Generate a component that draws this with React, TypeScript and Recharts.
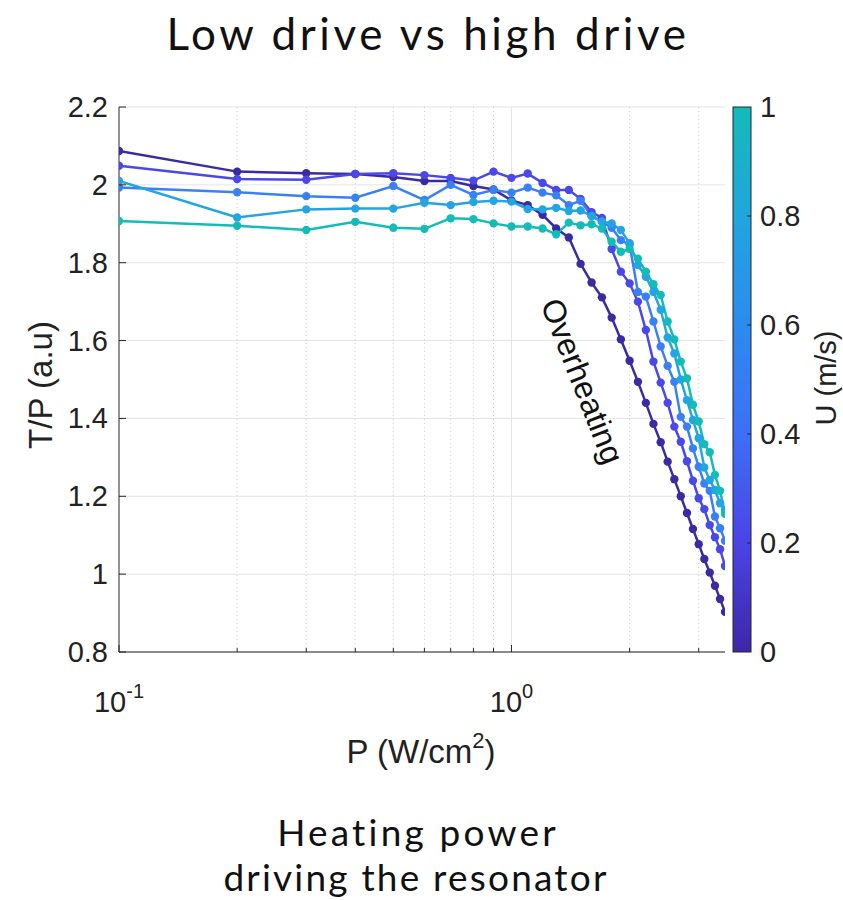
import React from 'react';
import { LineChart, Line, XAxis, YAxis, CartesianGrid, ReferenceLine } from 'recharts';

// heating power P (W/cm^2)
const power = [
  0.1, 0.2, 0.3, 0.4, 0.5, 0.6, 0.7, 0.8, 0.9, 1.0,
  1.1, 1.2, 1.3, 1.4, 1.5, 1.6, 1.7, 1.8, 1.9, 2.0,
  2.1, 2.2, 2.3, 2.4, 2.5, 2.6, 2.7, 2.8, 2.9, 3.0,
  3.1, 3.2, 3.3, 3.4, 3.5,
];

// T/P (a.u) for each flow speed U
const tpU0 = [
  2.087, 2.034, 2.03, 2.028, 2.02, 2.01, 2.01, 1.997, 1.988, 1.96,
  1.948, 1.923, 1.888, 1.865, 1.797, 1.749, 1.711, 1.659, 1.603, 1.548,
  1.494, 1.44, 1.386, 1.339, 1.289, 1.244, 1.2, 1.157, 1.116, 1.077,
  1.039, 1.004, 0.97, 0.936, 0.903,
];
const tpU25 = [
  2.049, 2.015, 2.013, 2.028, 2.03, 2.025, 2.018, 2.011, 2.034, 2.018,
  2.029, 2.005, 1.987, 1.987, 1.964, 1.93, 1.915, 1.835, 1.777, 1.747,
  1.7, 1.627, 1.546, 1.492, 1.44, 1.379, 1.34, 1.29, 1.24, 1.195,
  1.167, 1.126, 1.095, 1.064, 1.021,
];
const tpU50 = [
  1.993, 1.981, 1.971, 1.967, 1.997, 1.961, 2.0, 1.974, 1.987, 1.98,
  1.993, 1.98, 1.973, 1.948, 1.959, 1.92, 1.905, 1.89, 1.858, 1.846,
  1.725, 1.713, 1.649, 1.585, 1.535, 1.494, 1.404, 1.379, 1.323, 1.276,
  1.233, 1.214, 1.148, 1.118, 1.086,
];
const tpU75 = [
  2.01, 1.916, 1.937, 1.939, 1.939, 1.954, 1.948, 1.956, 1.959, 1.957,
  1.938, 1.937, 1.941, 1.933, 1.934, 1.92, 1.906, 1.901, 1.884, 1.85,
  1.794, 1.764, 1.725, 1.679, 1.608, 1.567, 1.5, 1.447, 1.396, 1.349,
  1.274, 1.242, 1.216, 1.182, 1.165,
];
const tpU100 = [
  1.907, 1.895, 1.884, 1.905, 1.89, 1.887, 1.914, 1.912, 1.901, 1.893,
  1.893, 1.888, 1.873, 1.903, 1.896, 1.899, 1.888, 1.854, 1.828, 1.835,
  1.81, 1.777, 1.745, 1.717, 1.649, 1.603, 1.546, 1.503, 1.435, 1.392,
  1.334, 1.313, 1.255, 1.214, 1.155,
];

const seriesKeys = ['u0', 'u25', 'u50', 'u75', 'u100'];
const seriesColors = ['#3b2ba2', '#4a48e8', '#3a80f5', '#22a5e2', '#13bcb6'];

const xMajorTicks = [0.1, 1];
const xMinorTicks = [0.2, 0.3, 0.4, 0.5, 0.6, 0.7, 0.8, 0.9, 2, 3];
const yTicks = [0.8, 1, 1.2, 1.4, 1.6, 1.8, 2, 2.2];
const colorbarTicks = [0, 0.2, 0.4, 0.6, 0.8, 1];
const colorbarStops = ['#3e26a8', '#4a44e6', '#3d6ff7', '#2d8bef', '#1fa6de', '#13bbb7'];

const data = power.map((p, i) => ({
  p,
  u0: tpU0[i],
  u25: tpU25[i],
  u50: tpU50[i],
  u75: tpU75[i],
  u100: tpU100[i],
}));

const AXIS = '#262626';
const FONT = '"Liberation Sans", Arial, sans-serif';
const TITLE_FONT = 'Lato, "Noto Sans", sans-serif';
const TICK_SIZE = 29;
const LABEL_SIZE = 33;

// plot box in page pixels
const W = 843;
const H = 900;
const PLOT_L = 119;
const PLOT_R = 725;
const PLOT_T = 107;
const PLOT_B = 652;

const fmtY = (v: number) => String(+v.toFixed(1));

const BottomTick = (props: any) => {
  const { x, y, payload } = props;
  const major = xMajorTicks.includes(payload.value);
  const exp = Math.round(Math.log10(payload.value));
  return (
    <g>
      <line x1={x} x2={x} y1={y} y2={y - (major ? 7 : 4)} stroke={AXIS} />
      {major && (
        <text x={x} y={y + 60} textAnchor="middle" fontFamily={FONT} fontSize={TICK_SIZE} fill="#222">
          10
          <tspan dy={-14} fontSize={20}>{exp === 0 ? '0' : '-1'}</tspan>
        </text>
      )}
    </g>
  );
};

const TopTick = (props: any) => {
  const { x, y, payload } = props;
  const major = xMajorTicks.includes(payload.value);
  return <line x1={x} x2={x} y1={y} y2={y + (major ? 7 : 4)} stroke={AXIS} />;
};

const LeftTick = (props: any) => {
  const { x, y, payload } = props;
  return (
    <g>
      <line x1={x} x2={x + 7} y1={y} y2={y} stroke={AXIS} />
      <text x={x - 11} y={y + 10} textAnchor="end" fontFamily={FONT} fontSize={TICK_SIZE} fill="#222">
        {fmtY(payload.value)}
      </text>
    </g>
  );
};

const RightTick = (props: any) => {
  const { x, y } = props;
  return <line x1={x} x2={x - 7} y1={y} y2={y} stroke={AXIS} />;
};

const Colorbar = () => {
  const x = 733;
  const w = 18;
  const h = PLOT_B - PLOT_T;
  return (
    <g>
      <defs>
        <linearGradient id="parula" x1="0" y1="1" x2="0" y2="0">
          {colorbarStops.map((c, i) => (
            <stop key={i} offset={i / (colorbarStops.length - 1)} stopColor={c} />
          ))}
        </linearGradient>
      </defs>
      <rect x={x} y={PLOT_T} width={w} height={h} fill="url(#parula)" stroke={AXIS} strokeWidth={1} />
      {colorbarTicks.map(t => {
        const ty = PLOT_B - t * h;
        return (
          <g key={t}>
            {t > 0 && t < 1 && <line x1={x + w} x2={x + w - 4} y1={ty} y2={ty} stroke={AXIS} />}
            <text x={x + w + 9} y={ty + 10} fontFamily={FONT} fontSize={TICK_SIZE} fill="#222">
              {String(t)}
            </text>
          </g>
        );
      })}
      <text
        transform="translate(836,378) rotate(-90)"
        textAnchor="middle"
        fontFamily={FONT}
        fontSize={29}
        fill="#222"
      >
        U (m/s)
      </text>
    </g>
  );
};

const App: React.FC = () => {
  return (
    <div style={{ position: 'absolute', left: 0, top: 0, width: W, height: H, background: '#fff' }}>
      <LineChart
        width={W}
        height={H}
        data={data}
        margin={{ top: PLOT_T, left: PLOT_L - 60, right: W - PLOT_R, bottom: H - PLOT_B - 60 }}
      >
        <CartesianGrid horizontal vertical={false} stroke="#e4e4e4" />
        {xMinorTicks.map(t => (
          <ReferenceLine key={t} x={t} stroke="#cfcfcf" strokeDasharray="1 3" />
        ))}
        <ReferenceLine x={1} stroke="#e4e4e4" />
        <XAxis
          dataKey="p"
          type="number"
          scale="log"
          domain={[0.1, 3.5]}
          allowDataOverflow
          ticks={[...xMajorTicks, ...xMinorTicks]}
          interval={0}
          height={60}
          tickSize={0}
          tickMargin={0}
          tickLine={false}
          tick={<BottomTick />}
          axisLine={{ stroke: AXIS }}
        />
        <XAxis
          xAxisId="top"
          orientation="top"
          type="number"
          scale="log"
          domain={[0.1, 3.5]}
          allowDataOverflow
          ticks={[...xMajorTicks, ...xMinorTicks]}
          interval={0}
          height={0}
          tickSize={0}
          tickMargin={0}
          tickLine={false}
          tick={<TopTick />}
          axisLine={{ stroke: AXIS }}
        />
        <YAxis
          type="number"
          domain={[0.8, 2.2]}
          ticks={yTicks}
          interval={0}
          width={60}
          tickSize={0}
          tickMargin={0}
          tickLine={false}
          tick={<LeftTick />}
          axisLine={{ stroke: AXIS }}
        />
        <YAxis
          yAxisId="right"
          orientation="right"
          type="number"
          domain={[0.8, 2.2]}
          ticks={yTicks}
          interval={0}
          width={0}
          tickSize={0}
          tickMargin={0}
          tickLine={false}
          tick={<RightTick />}
          axisLine={{ stroke: AXIS }}
        />
        {seriesKeys.map((k, i) => (
          <Line
            key={k}
            dataKey={k}
            type="linear"
            stroke={seriesColors[i]}
            strokeWidth={2.5}
            dot={{ r: 4.2, fill: seriesColors[i], stroke: seriesColors[i], strokeWidth: 0 }}
            activeDot={false}
            isAnimationActive={false}
          />
        ))}
      </LineChart>
      <svg width={W} height={H} style={{ position: 'absolute', left: 0, top: 0, pointerEvents: 'none' }}>
        <text
          x={428}
          y={50}
          textAnchor="middle"
          fontFamily={TITLE_FONT}
          fontSize={44}
          fontWeight={400}
          letterSpacing={3.6}
          fill="#111"
        >
          Low drive vs high drive
        </text>
        <text
          transform="translate(52,385) rotate(-90)"
          textAnchor="middle"
          fontFamily={FONT}
          fontSize={LABEL_SIZE}
          fill="#222"
        >
          T/P (a.u)
        </text>
        <text x={421} y={763} textAnchor="middle" fontFamily={FONT} fontSize={LABEL_SIZE} fill="#222">
          P (W/cm
          <tspan dy={-15} fontSize={22}>2</tspan>
          <tspan dy={15}>)</tspan>
        </text>
        <text
          transform="translate(580,382) rotate(68.5)"
          textAnchor="middle"
          dominantBaseline="middle"
          fontFamily={FONT}
          fontSize={32}
          fill="#111"
        >
          Overheating
        </text>
        <text
          x={418}
          y={846}
          textAnchor="middle"
          fontFamily={TITLE_FONT}
          fontSize={37}
          fontWeight={400}
          letterSpacing={3.2}
          fill="#111"
        >
          Heating power
        </text>
        <text
          x={416}
          y={891}
          textAnchor="middle"
          fontFamily={TITLE_FONT}
          fontSize={37}
          fontWeight={400}
          letterSpacing={2.2}
          fill="#111"
        >
          driving the resonator
        </text>
        <Colorbar />
      </svg>
    </div>
  );
};

export default App;
